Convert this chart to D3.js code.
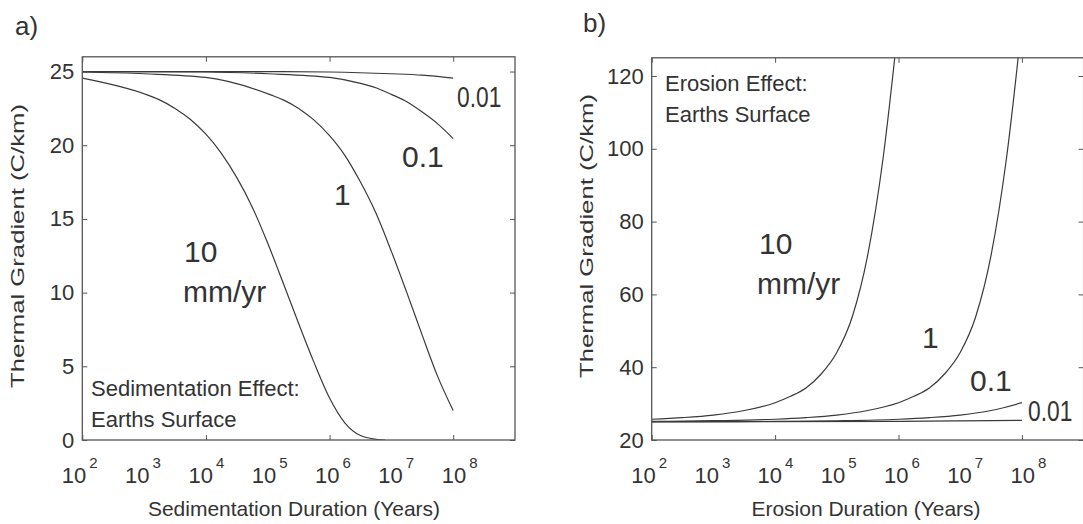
<!DOCTYPE html>
<html><head><meta charset="utf-8">
<script src="https://cdn.jsdelivr.net/npm/d3@7/dist/d3.min.js"></script>
<style>
body{margin:0;background:#fff}
text{font-family:"Liberation Sans",Arial,sans-serif;fill:#333}
</style>
</head><body>
<svg id="c" width="1083" height="524"></svg>
<script>
// ---- data (duration as log10 years, gradient in C/km) ----
const labelExponents=[2,3,4,5,6,7,8];
const tickMarkExponents=[2,4,6,8];
const sedYTicks=[0,5,10,15,20,25];
const eroYTicks=[20,40,60,80,100,120];
const rateNames=["10","1","0.1","0.01"];

// Sedimentation effect
const sed10=[[2,24.55],[3.06,23.4],[3.25,23.08],[3.5,22.5],[3.75,21.75],[4,20.75],[4.25,19.45],[4.5,17.8],[4.75,15.8],[5,13.35],[5.25,10.65],[5.5,7.9],[5.75,5.25],[6,2.85],[6.25,1.15],[6.5,0.3],[6.75,0.05],[6.9,0]];
const sed1=[[2,24.97],[3,24.85],[4,24.6],[5.06,23.4],[5.25,23.08],[5.5,22.5],[5.75,21.7],[6,20.65],[6.25,19.3],[6.5,17.5],[6.75,15.4],[7,12.8],[7.25,10.0],[7.5,7.1],[7.75,4.3],[8,2.0]];
const sed01=[[2,25],[4,24.97],[5,24.85],[6,24.6],[6.5,24.2],[6.75,23.9],[7,23.45],[7.25,22.95],[7.5,22.25],[7.75,21.45],[8,20.45]];
const sed001=[[2,25],[5,25],[6,24.97],[7,24.85],[7.5,24.75],[8,24.55]];

// Erosion effect
const ero10=[[2,25.7],[2.5,26.15],[3,26.85],[3.5,28.1],[4,30.25],[4.25,32.0],[4.5,34.3],[4.75,38.2],[5,44.05],[5.25,53.8],[5.5,70.7],[5.75,97.4],[6,134.6]];
const ero1=[[2,25.1],[3,25.3],[4,25.7],[4.5,26.15],[5,26.85],[5.5,28.1],[6,30.25],[6.25,32.0],[6.5,34.3],[6.75,38.2],[7,44.05],[7.25,53.8],[7.5,70.7],[7.75,97.4],[8,134.6]];
const ero01=[[2,25.01],[4,25.1],[5,25.27],[6,25.7],[6.5,26.15],[7,26.85],[7.5,28.1],[8,30.25]];
const ero001=[[2,25.0],[6,25.1],[7,25.25],[8,25.4]];

// ---- layout ----
const svg=d3.select("#c");
const panels=[
 {id:"a", xr:[82.3,515], yd:[0,26], top:56.8, yticks:sedYTicks, series:[sed10,sed1,sed01,sed001],
  letter:{t:"a)",x:15,y:35,s:26},
  xtitle:{t:"Sedimentation Duration (Years)",x:294},
  ytitle:{x:24,y:246},
  notes:[{t:"0.01",x:457,y:107,s:30,sx:0.76},{t:"0.1",x:402,y:167,s:30},{t:"1",x:334,y:205,s:30},
         {t:"10",x:184,y:262,s:30},{t:"mm/yr",x:183,y:302,s:30},
         {t:"Sedimentation Effect:",x:91,y:396,s:22},{t:"Earths Surface",x:91,y:427,s:22}]},
 {id:"b", xr:[651.7,1083.6], yd:[20,125], top:57.8, yticks:eroYTicks, series:[ero10,ero1,ero01,ero001],
  letter:{t:"b)",x:583,y:32,s:26},
  xtitle:{t:"Erosion Duration (Years)",x:866},
  ytitle:{x:593,y:236},
  notes:[{t:"Erosion Effect:",x:665,y:91,s:22},{t:"Earths Surface",x:665,y:122,s:22},
         {t:"10",x:759,y:254,s:30},{t:"mm/yr",x:757,y:294,s:30},
         {t:"1",x:922,y:348,s:30},{t:"0.1",x:970,y:391,s:30},{t:"0.01",x:1028,y:421,s:30,sx:0.76}]}
];
const bottom=440;

panels.forEach(p=>{
  const g=svg.append("g");
  const x=d3.scaleLog().domain([1e2,1e9]).range(p.xr);
  const y=d3.scaleLinear().domain(p.yd).range([bottom,p.top]);
  const w=p.xr[1]-p.xr[0], h=bottom-p.top;

  g.append("clipPath").attr("id","clip"+p.id).append("rect")
    .attr("x",p.xr[0]).attr("y",p.top).attr("width",w).attr("height",h);

  const line=d3.line().x(d=>x(Math.pow(10,d[0]))).y(d=>y(d[1])).curve(d3.curveMonotoneX);
  g.append("g").attr("clip-path","url(#clip"+p.id+")")
    .selectAll("path").data(p.series).join("path")
    .attr("d",line).attr("fill","none").attr("stroke","#3a3a3a").attr("stroke-width",1.2);

  // axes: inward ticks on all sides
  const tv=tickMarkExponents.map(e=>Math.pow(10,e));
  const axStyle=s=>{s.select(".domain").remove();s.selectAll("line").attr("stroke","#555");};
  g.append("g").attr("transform",`translate(0,${bottom})`)
    .call(d3.axisBottom(x).tickValues(tv).tickSize(-5).tickFormat(""))
    .call(axStyle);
  g.append("g").attr("transform",`translate(0,${p.top})`)
    .call(d3.axisTop(x).tickValues(tv).tickSize(-5).tickFormat(""))
    .call(axStyle);
  const yl=g.append("g").attr("transform",`translate(${p.xr[0]},0)`)
    .call(d3.axisLeft(y).tickValues(p.yticks).tickSize(-5).tickPadding(8))
    .call(axStyle);
  yl.selectAll("text").attr("font-size",22).attr("fill","#333")
    .attr("font-family","Liberation Sans, Arial, sans-serif");
  g.append("g").attr("transform",`translate(${p.xr[1]},0)`)
    .call(d3.axisRight(y).tickValues(p.yticks).tickSize(-5).tickFormat(""))
    .call(axStyle);

  g.append("rect").attr("x",p.xr[0]).attr("y",p.top).attr("width",w).attr("height",h)
    .attr("fill","none").attr("stroke","#555").attr("stroke-width",1.3);

  // x tick labels 10^n (evenly spaced as in the figure)
  const lx=d3.scaleLinear().domain([2,8]).range([x(1e2)-8,x(1e8)+1]);
  const tl=g.selectAll("text.xl").data(labelExponents).join("text").attr("class","xl")
    .attr("x",e=>lx(e)).attr("y",483).attr("font-size",22).attr("text-anchor","start")
    .attr("dx",-12.5);
  tl.append("tspan").text("10");
  tl.append("tspan").attr("dx",3).attr("dy",-15).attr("font-size",15).text(e=>e);

  // titles
  g.append("text").attr("x",p.xtitle.x).attr("y",516).attr("text-anchor","middle")
    .attr("font-size",21).text(p.xtitle.t);
  g.append("text").attr("transform",`translate(${p.ytitle.x},${p.ytitle.y}) rotate(-90)`)
    .attr("text-anchor","middle").attr("font-size",19)
    .attr("textLength",284).attr("lengthAdjust","spacingAndGlyphs")
    .text("Thermal Gradient (C/km)");
  g.append("text").attr("x",p.letter.x).attr("y",p.letter.y).attr("font-size",p.letter.s).text(p.letter.t);

  g.selectAll("text.note").data(p.notes).join("text").attr("class","note")
    .attr("transform",d=>`translate(${d.x},${d.y}) scale(${d.sx||1},1)`)
    .attr("font-size",d=>d.s).text(d=>d.t);
});
</script>
</body></html>
